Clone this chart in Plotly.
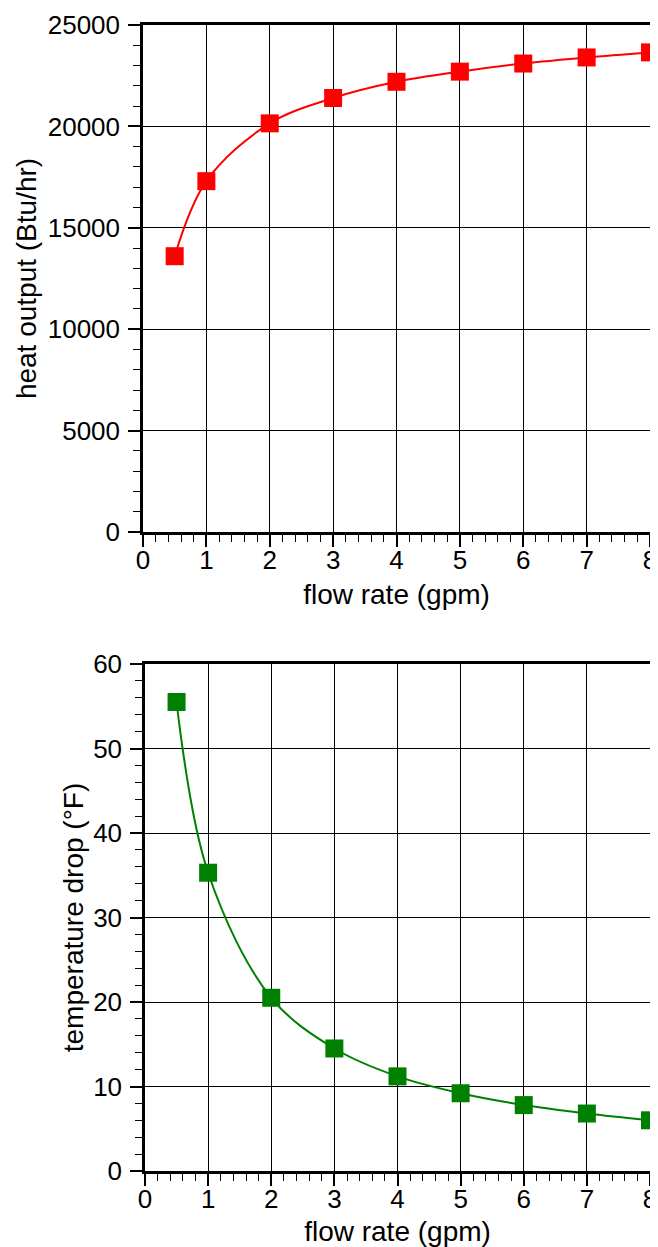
import plotly.graph_objects as go
from plotly.subplots import make_subplots

flow_gpm = [0.5, 1, 2, 3, 4, 5, 6, 7, 8]
heat_output = [13600, 17300, 20150, 21400, 22200, 22700, 23100, 23400, 23650]
temp_drop = [55.5, 35.3, 20.5, 14.5, 11.2, 9.2, 7.8, 6.8, 6.0]

x_ticks = [0, 1, 2, 3, 4, 5, 6, 7, 8]
heat_ticks = [0, 5000, 10000, 15000, 20000, 25000]
drop_ticks = [0, 10, 20, 30, 40, 50, 60]

# page body has an 8px margin, so the figure is offset by OFF px
OFF = 8
W, H = 658 - OFF, 1247 - OFF
FONT = "Liberation Sans, Arial, Helvetica, sans-serif"


def px_x(p):
    return (p - OFF) / W


def px_y(p):
    return 1 - (p - OFF) / H


fig = make_subplots(rows=2, cols=1)

fig.add_trace(go.Scatter(
    x=flow_gpm, y=heat_output, mode="lines+markers",
    line=dict(color="#ff0000", width=2, shape="spline", smoothing=1.0),
    marker=dict(symbol="square", size=18, color="#ff0000", line=dict(width=0)),
    cliponaxis=False, showlegend=False), row=1, col=1)

fig.add_trace(go.Scatter(
    x=flow_gpm, y=temp_drop, mode="lines+markers",
    line=dict(color="#008000", width=2, shape="spline", smoothing=1.0),
    marker=dict(symbol="square", size=18, color="#008000", line=dict(width=0)),
    cliponaxis=False, showlegend=False), row=2, col=1)

axis_common = dict(
    automargin=False,
    showline=True, linecolor="black", linewidth=2.5, mirror=True,
    showgrid=True, gridcolor="black", gridwidth=1,
    zeroline=False,
    ticks="outside", ticklen=12, tickwidth=1.5, tickcolor="black",
    tickfont=dict(family=FONT, size=26, color="black"),
    tickformat="d",
)

minor_x = dict(dtick=0.2, ticks="outside", ticklen=7, tickwidth=1.2, tickcolor="black", showgrid=False)

fig.update_xaxes(**axis_common, range=[0, 8], tickvals=x_ticks, minor=minor_x,
                 ticklabelstandoff=-9)
fig.update_yaxes(**axis_common, ticklabelstandoff=3)

fig.update_xaxes(row=1, col=1,
                 title=dict(text="flow rate (gpm)", font=dict(family=FONT, size=28, color="black"), standoff=11))
fig.update_xaxes(row=2, col=1,
                 title=dict(text="flow rate (gpm)", font=dict(family=FONT, size=28, color="black"), standoff=12))

fig.update_yaxes(row=1, col=1, range=[0, 25000], tickvals=heat_ticks,
                 minor=dict(dtick=1000, ticks="outside", ticklen=7, tickwidth=1.2, tickcolor="black", showgrid=False),
                 title=dict(text="heat output (Btu/hr)", font=dict(family=FONT, size=28, color="black"), standoff=3))
fig.update_yaxes(row=2, col=1, range=[0, 60], tickvals=drop_ticks,
                 minor=dict(dtick=2, ticks="outside", ticklen=7, tickwidth=1.2, tickcolor="black", showgrid=False),
                 title=dict(text="temperature drop (°F)", font=dict(family=FONT, size=28, color="black"), standoff=2))

fig.update_layout(
    template="none",
    width=W, height=H,
    margin=dict(l=0, r=0, t=0, b=0, pad=0),
    paper_bgcolor="white", plot_bgcolor="white",
    xaxis=dict(domain=[px_x(143), px_x(650)]),
    xaxis2=dict(domain=[px_x(145), px_x(650)]),
    yaxis=dict(domain=[px_y(532), px_y(25)]),
    yaxis2=dict(domain=[px_y(1171), px_y(664)]),
    font=dict(family=FONT, color="black"),
)

fig.write_html("out.html")
